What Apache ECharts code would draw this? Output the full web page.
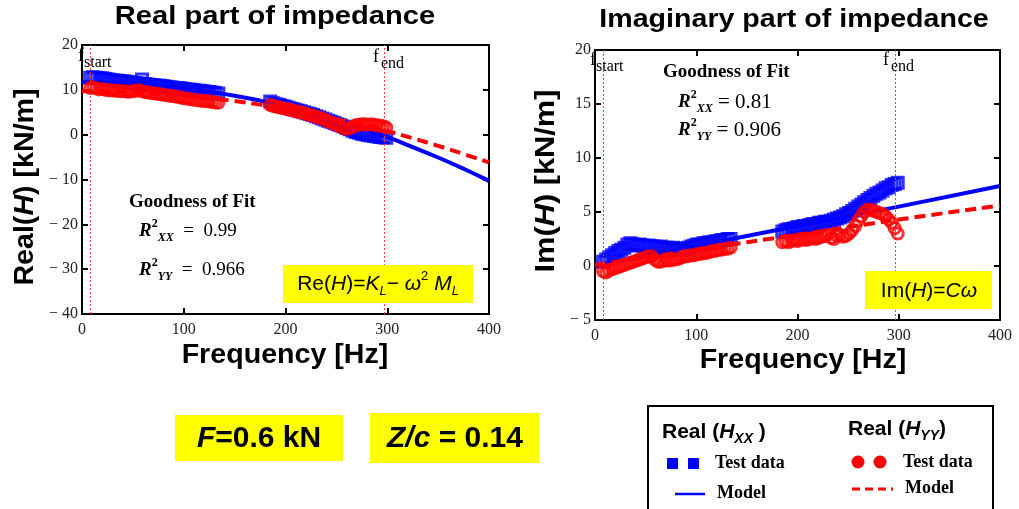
<!DOCTYPE html>
<html>
<head>
<meta charset="utf-8">
<script src="https://cdn.jsdelivr.net/npm/echarts@6/dist/echarts.min.js"></script>
<style>
  html, body { margin: 0; padding: 0; background: #fff; }
  #chart { width: 1019px; height: 509px; }
</style>
</head>
<body>
<div id="chart"></div>
<script>
// Frequency grids of the measured points [Hz]
const freqLow = [8, 11, 14, 17, 20, 23, 26, 29, 32, 35, 38, 41, 44, 47, 50, 53, 56, 59, 62, 65, 68, 71,
  74, 77, 80, 83, 86, 89, 92, 95, 98, 101, 104, 107, 110, 113, 116, 119, 122, 125, 128, 131, 134];
const freqHigh = [185, 188, 191, 194, 197, 200, 203, 206, 209, 212, 215, 218, 221, 224, 227, 230, 233,
  236, 239, 242, 245, 248, 251, 254, 257, 260, 263, 266, 269, 272, 275, 278, 281, 284, 287, 290, 293, 296, 299];

// Real part, test data [kN/m]
const reXXLow = [12.7, 12.8, 12.7, 12.6, 12.6, 12.4, 12.3, 12.2, 12.1, 12.0, 11.9, 11.9, 11.8, 11.7, 11.6,
  11.5, 11.4, 12.3, 11.3, 11.2, 11.1, 11.0, 10.9, 10.9, 10.8, 10.7, 10.6, 10.5, 10.4, 10.4, 10.3, 10.2,
  10.1, 10.0, 9.9, 9.8, 9.8, 9.7, 9.6, 9.5, 9.4, 9.3, 9.2];
const reXXHigh = [7.4, 7.0, 6.8, 6.6, 6.4, 6.2, 6.0, 5.8, 5.6, 5.4, 5.2, 5.0, 4.8, 4.6, 4.4, 4.1, 3.9, 3.6,
  3.4, 3.1, 2.9, 2.6, 2.3, 2.1, 1.8, 1.5, 1.2, 0.9, 0.6, 0.4, 0.2, 0.1, -0.1, -0.2, -0.3, -0.4, -0.5, -0.6, -0.7];
const reYYLow = [10.4, 10.6, 10.3, 10.1, 10.2, 10.0, 9.9, 9.9, 9.8, 9.8, 9.7, 9.7, 9.6, 9.6, 9.7, 9.8, 9.9,
  9.7, 9.5, 9.4, 9.3, 9.2, 9.1, 9.0, 8.9, 8.8, 8.7, 8.6, 8.5, 8.4, 8.2, 8.1, 8.0, 7.9, 7.8, 7.7, 7.6, 7.5,
  7.5, 7.4, 7.3, 7.2, 7.1];
const reYYHigh = [6.6, 6.4, 6.2, 6.1, 5.9, 5.8, 5.6, 5.5, 5.3, 5.1, 5.0, 4.8, 4.6, 4.4, 4.2, 4.0, 3.8, 3.6,
  3.3, 3.0, 2.7, 2.4, 2.1, 1.8, 1.5, 1.3, 1.4, 1.8, 2.1, 2.2, 2.3, 2.3, 2.2, 2.3, 2.2, 2.1, 2.0, 1.9, 1.6];

// Imaginary part, test data [kN/m]
const imXXLow = [0.4, 0.6, 0.8, 1.0, 1.2, 1.4, 1.5, 1.7, 2.0, 2.1, 2.0, 1.9, 2.0, 1.9, 1.8, 1.9, 1.8, 1.8,
  1.7, 1.8, 1.7, 1.7, 1.6, 1.7, 1.6, 1.6, 1.5, 1.6, 1.7, 1.8, 1.9, 2.0, 2.0, 2.1, 2.1, 2.2, 2.2, 2.3, 2.3,
  2.4, 2.4, 2.5, 2.5];
const imXXHigh = [3.2, 3.3, 3.4, 3.4, 3.5, 3.6, 3.6, 3.7, 3.7, 3.8, 3.9, 3.9, 4.0, 4.0, 4.1, 4.1, 4.2, 4.3,
  4.4, 4.5, 4.6, 4.8, 4.9, 5.1, 5.3, 5.5, 5.7, 5.9, 6.1, 6.3, 6.5, 6.7, 6.8, 7.0, 7.2, 7.3, 7.5, 7.6, 7.7];
const imYYLow = [-0.5, -0.6, -0.4, -0.3, -0.2, -0.1, 0.0, 0.1, 0.2, 0.3, 0.4, 0.5, 0.6, 0.7, 0.8, 0.9, 0.9,
  0.6, 0.4, 0.4, 0.5, 0.5, 0.5, 0.6, 0.6, 0.7, 0.8, 0.9, 0.9, 1.0, 1.0, 1.1, 1.1, 1.2, 1.2, 1.3, 1.4, 1.4,
  1.5, 1.5, 1.6, 1.6, 1.7];
const imYYHigh = [2.2, 2.3, 2.2, 2.3, 2.4, 2.3, 2.4, 2.5, 2.4, 2.5, 2.6, 2.5, 2.6, 2.7, 2.8, 2.9, 2.6, 2.5,
  2.8, 2.9, 2.7, 2.8, 3.0, 3.3, 3.7, 4.2, 4.6, 5.0, 5.2, 5.2, 5.1, 5.0, 4.9, 4.8, 4.6, 4.3, 4.0, 3.5, 3.0];

// Fitted models
const reModelFreq = [0, 25, 50, 75, 100, 125, 150, 175, 200, 225, 250, 275, 300, 325, 350, 375, 400];
const reModelXX = [11.8, 11.7, 11.5, 11.0, 10.4, 9.6, 8.7, 7.6, 6.3, 4.8, 3.2, 1.4, -0.5, -2.8, -5.1, -7.6, -10.3];
const reModelYY = [9.7, 9.6, 9.5, 9.1, 8.7, 8.1, 7.5, 6.7, 5.7, 4.7, 3.5, 2.2, 0.8, -0.8, -2.5, -4.3, -6.2];
const imModelFreq = [0, 100, 200, 300, 400];
const imModelXX = [0.0, 1.85, 3.7, 5.5, 7.4];
const imModelYY = [0.1, 1.5, 2.9, 4.3, 5.6];

// Fit band limits [Hz]
const fBand = [8, 297];

// Axis ticks
const xTicks = [0, 100, 200, 300, 400];
const reYTicks = [-40, -30, -20, -10, 0, 10, 20];
const imYTicks = [-5, 0, 5, 10, 15, 20];

const SANS = '"Liberation Sans", Arial, sans-serif';
const SERIF = '"Liberation Serif", "Times New Roman", serif';
const BLUE = '#0000ff';
const RED = '#ff0000';

const zip = (xs, ys) => xs.map((x, i) => [x, ys[i]]);
const minusFmt = v => (v < 0 ? '\u2212 ' + Math.abs(v) : String(v));

const tickStyle = { inside: true, length: 6, lineStyle: { color: '#000', width: 2 } };
const labelStyle = { fontFamily: SERIF, fontSize: 16, color: '#222', formatter: minusFmt };

function xAxesFor(grid) {
  const base = {
    type: 'value', gridIndex: grid,
    min: xTicks[0], max: xTicks[xTicks.length - 1], interval: xTicks[1] - xTicks[0],
    axisLine: { show: false, onZero: false }, splitLine: { show: false }, axisTick: tickStyle
  };
  return [
    Object.assign({}, base, { position: 'bottom', axisLabel: Object.assign({ margin: 8 }, labelStyle) }),
    Object.assign({}, base, { position: 'top', axisLabel: { show: false } })
  ];
}
function yAxesFor(grid, ticks) {
  const base = {
    type: 'value', gridIndex: grid,
    min: ticks[0], max: ticks[ticks.length - 1], interval: ticks[1] - ticks[0],
    axisLine: { show: false, onZero: false }, splitLine: { show: false }, axisTick: tickStyle
  };
  return [
    Object.assign({}, base, { position: 'left', axisLabel: Object.assign({ margin: 4 }, labelStyle) }),
    Object.assign({}, base, { position: 'right', axisLabel: { show: false } })
  ];
}

const bandLines = {
  silent: true, symbol: 'none', label: { show: false },
  lineStyle: { color: '#ff3a3a', type: [2, 2], width: 1 },
  data: fBand.map(f => ({ xAxis: f }))
};

function seriesFor(xi, yi, mFreq, mXX, mYY, xxPts, yyPts) {
  return [
    {
      type: 'line', xAxisIndex: xi, yAxisIndex: yi, data: zip(mFreq, mXX), smooth: true,
      showSymbol: false, lineStyle: { color: BLUE, width: 4 }, z: 2, markLine: bandLines
    },
    {
      type: 'scatter', xAxisIndex: xi, yAxisIndex: yi, data: xxPts, symbol: 'rect', symbolSize: 11,
      itemStyle: { color: 'rgba(255,255,255,0)', borderColor: BLUE, borderWidth: 3 }, z: 3
    },
    {
      type: 'line', xAxisIndex: xi, yAxisIndex: yi, data: zip(mFreq, mYY), smooth: true,
      showSymbol: false, lineStyle: { color: RED, width: 4, type: [11, 6] }, z: 4
    },
    {
      type: 'scatter', xAxisIndex: xi, yAxisIndex: yi, data: yyPts, symbol: 'circle', symbolSize: 11,
      itemStyle: { color: 'rgba(255,255,255,0)', borderColor: RED, borderWidth: 3 }, z: 5
    }
  ];
}

const series = [].concat(
  seriesFor(0, 0, reModelFreq, reModelXX, reModelYY,
    zip(freqLow, reXXLow).concat(zip(freqHigh, reXXHigh)),
    zip(freqLow, reYYLow).concat(zip(freqHigh, reYYHigh))),
  seriesFor(2, 2, imModelFreq, imModelXX, imModelYY,
    zip(freqLow, imXXLow).concat(zip(freqHigh, imXXHigh)),
    zip(freqLow, imYYLow).concat(zip(freqHigh, imYYHigh)))
);

// Text and annotation styles
function text(x, y, str, font, extra) {
  return Object.assign({
    type: 'text', x: x, y: y, z: 20,
    style: Object.assign({ text: str, font: font, fill: '#000', textAlign: 'left', textVerticalAlign: 'middle' },
      (extra && extra.style) || {})
  }, (extra && extra.el) || {});
}
function rect(x, y, w, h, style) {
  return { type: 'rect', z: 15, shape: { x: x, y: y, width: w, height: h }, style: style };
}

const richR2 = size => ({
  r: { font: 'italic bold 19px ' + SERIF, lineHeight: 26, verticalAlign: 'middle', fill: '#000' },
  sup: { font: 'bold 12px ' + SERIF, lineHeight: 13, verticalAlign: 'top', fill: '#000' },
  sub: { font: 'italic bold 12px ' + SERIF, lineHeight: 13, verticalAlign: 'bottom', fill: '#000' },
  v: { font: size + 'px ' + SERIF, lineHeight: 26, verticalAlign: 'middle', fill: '#000' }
});
const richFormula = {
  n: { font: '21px ' + SANS, lineHeight: 28, verticalAlign: 'middle', fill: '#000' },
  i: { font: 'italic 21px ' + SANS, lineHeight: 28, verticalAlign: 'middle', fill: '#000' },
  sub: { font: 'italic 13px ' + SANS, lineHeight: 14, verticalAlign: 'bottom', fill: '#000' },
  sup: { font: '13px ' + SANS, lineHeight: 16, verticalAlign: 'top', fill: '#000' }
};
const richBig = {
  n: { font: 'bold 30px ' + SANS, fill: '#000' },
  i: { font: 'italic bold 30px ' + SANS, fill: '#000' }
};
const richHead = {
  n: { font: 'bold 21px ' + SANS, lineHeight: 28, verticalAlign: 'middle', fill: '#000' },
  i: { font: 'italic bold 21px ' + SANS, lineHeight: 28, verticalAlign: 'middle', fill: '#000' },
  sub: { font: 'italic bold 14px ' + SANS, lineHeight: 14, verticalAlign: 'bottom', fill: '#000' }
};
const richAxisName = {
  n: { font: 'bold 27px ' + SANS, fill: '#000' },
  i: { font: 'italic bold 27px ' + SANS, fill: '#000' }
};

const graphics = [
  // chart titles
  text(275, 17, 'Real part of impedance', 'bold 26px ' + SANS,
    { style: { textAlign: 'center' }, el: { scaleX: 1.12 } }),
  text(794, 20, 'Imaginary part of impedance', 'bold 26px ' + SANS,
    { style: { textAlign: 'center' }, el: { scaleX: 1.1 } }),

  // axis names
  text(285, 356, 'Frequency [Hz]', 'bold 27px ' + SANS, { style: { textAlign: 'center' }, el: { scaleX: 1.06 } }),
  text(803, 361, 'Frequency [Hz]', 'bold 27px ' + SANS, { style: { textAlign: 'center' }, el: { scaleX: 1.06 } }),
  text(26, 187, '{n|Real(}{i|H}{n|) [kN/m]}', 'bold 27px ' + SANS,
    { style: { textAlign: 'center', rich: richAxisName }, el: { rotation: Math.PI / 2, scaleX: 1.06 } }),
  text(547, 181, '{n|Im(}{i|H}{n|) [kN/m]}', 'bold 27px ' + SANS,
    { style: { textAlign: 'center', rich: richAxisName }, el: { rotation: Math.PI / 2, scaleX: 1.14 } }),

  // band labels
  text(78, 56, 'f', '18px ' + SERIF), text(84, 63, 'start', '16px ' + SERIF),
  text(373, 57, 'f', '18px ' + SERIF), text(381, 64, 'end', '16px ' + SERIF),
  text(590, 60, 'f', '18px ' + SERIF), text(596, 67, 'start', '16px ' + SERIF),
  text(883, 60, 'f', '18px ' + SERIF), text(891, 67, 'end', '16px ' + SERIF),

  // goodness of fit, real part
  text(129, 202, 'Goodness of Fit', 'bold 19px ' + SERIF),
  text(139, 231, '{r|R}{sup|2}{sub|XX}{v|  =  0.99}', '19px ' + SERIF, { style: { rich: richR2(19) } }),
  text(139, 270, '{r|R}{sup|2}{sub|YY}{v|  =  0.966}', '19px ' + SERIF, { style: { rich: richR2(19) } }),

  // goodness of fit, imaginary part
  text(663, 72, 'Goodness of Fit', 'bold 19px ' + SERIF),
  text(678, 102, '{r|R}{sup|2}{sub|XX}{v| = 0.81}', '21px ' + SERIF, { style: { rich: richR2(21) } }),
  text(678, 130, '{r|R}{sup|2}{sub|YY}{v| = 0.906}', '21px ' + SERIF, { style: { rich: richR2(21) } }),

  // model formulas
  rect(283, 265, 190, 38, { fill: '#ffff00' }),
  text(378, 284, '{n|Re(}{i|H}{n|)=}{i|K}{sub|L}{n|\u2212 }{i|\u03c9}{sup|2}{n| }{i|M}{sub|L}', '21px ' + SANS,
    { style: { textAlign: 'center', rich: richFormula } }),
  rect(865, 271, 127, 38, { fill: '#ffff00' }),
  text(929, 291, '{n|Im(}{i|H}{n|)=}{i|C\u03c9}', '21px ' + SANS,
    { style: { textAlign: 'center', rich: richFormula } }),

  // test conditions
  rect(175, 415, 168, 46, { fill: '#ffff00' }),
  text(259, 439, '{i|F}{n|=0.6 kN}', 'bold 30px ' + SANS, { style: { textAlign: 'center', rich: richBig } }),
  rect(370, 413, 169, 50, { fill: '#ffff00' }),
  text(455, 439, '{i|Z/c}{n| = 0.14}', 'bold 30px ' + SANS, { style: { textAlign: 'center', rich: richBig } }),

  // legend
  rect(648, 406, 345, 130, { fill: 'none', stroke: '#000', lineWidth: 2 }),
  text(662, 432, '{n|Real (}{i|H}{sub|XX}{n| )}', 'bold 21px ' + SANS, { style: { rich: richHead } }),
  text(848, 429, '{n|Real (}{i|H}{sub|YY}{n|)}', 'bold 21px ' + SANS, { style: { rich: richHead } }),
  rect(667, 458, 11, 11, { fill: BLUE }),
  rect(688, 458, 11, 11, { fill: BLUE }),
  text(715, 463, 'Test data', 'bold 18px ' + SERIF),
  { type: 'line', z: 15, shape: { x1: 675, y1: 494, x2: 705, y2: 494 }, style: { stroke: BLUE, lineWidth: 2.5 } },
  text(717, 493, 'Model', 'bold 18px ' + SERIF),
  { type: 'circle', z: 15, shape: { cx: 858, cy: 462, r: 6.5 }, style: { fill: RED } },
  { type: 'circle', z: 15, shape: { cx: 880, cy: 462, r: 6.5 }, style: { fill: RED } },
  text(903, 462, 'Test data', 'bold 18px ' + SERIF),
  { type: 'line', z: 15, shape: { x1: 852, y1: 489, x2: 893, y2: 489 },
    style: { stroke: RED, lineWidth: 3, lineDash: [8, 5] } },
  text(905, 488, 'Model', 'bold 18px ' + SERIF)
];

const chart = echarts.init(document.getElementById('chart'), null, { renderer: 'canvas' });
chart.setOption({
  animation: false,
  backgroundColor: '#fff',
  grid: [
    { left: 82, top: 45, width: 407, height: 269, show: true, borderColor: '#000', borderWidth: 2, backgroundColor: 'transparent' },
    { left: 595, top: 50, width: 405, height: 270, show: true, borderColor: '#000', borderWidth: 2, backgroundColor: 'transparent' }
  ],
  xAxis: xAxesFor(0).concat(xAxesFor(1)),
  yAxis: yAxesFor(0, reYTicks).concat(yAxesFor(1, imYTicks)),
  series: series,
  graphic: { elements: graphics }
});
</script>
</body>
</html>
